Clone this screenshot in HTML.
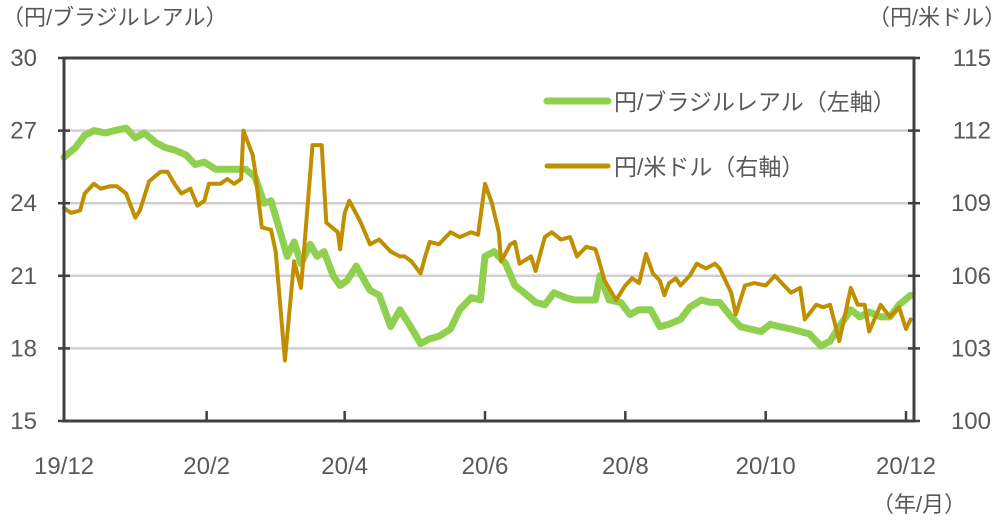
<!DOCTYPE html>
<html><head><meta charset="utf-8"><style>
body{margin:0;background:#fff;}
svg text{font-family:"Liberation Sans","Noto Sans CJK JP",sans-serif;fill:#595959;}
</style></head><body>
<svg width="1006" height="523" viewBox="0 0 1006 523" xmlns="http://www.w3.org/2000/svg">
<g id="grid"></g>
<g id="series"></g>
<g id="axes"></g>
<text x="2" y="25" font-size="22">（円/ブラジルレアル）</text>
<text x="868" y="25" font-size="22">（円/米ドル）</text>
<text x="872" y="512" font-size="22">（年/月）</text>
<g>
<line x1="547" y1="101" x2="608" y2="101" stroke="#8fd14f" stroke-width="7" stroke-linecap="round"/>
<text x="614" y="110" font-size="23">円/ブラジルレアル（左軸）</text>
<line x1="547" y1="166" x2="608" y2="166" stroke="#bf8f00" stroke-width="5" stroke-linecap="round"/>
<text x="614" y="175" font-size="23">円/米ドル（右軸）</text>
</g>
</svg>
<script>
const brlDays=[0,5,9,13,18,22,27,31,35,40,44,48,53,57,61,66,70,74,79,83,87,90,94,97,100,103,107,110,113,117,120,123,127,130,133,137,142,146,150,155,159,163,168,172,177,181,183,187,192,196,200,205,209,213,218,222,227,231,233,237,242,246,250,255,259,263,268,272,277,281,285,290,294,298,303,307,311,316,320,324,329,333,337,342,346,350,355,359,363,368];
const brlValues=[25.9,26.3,26.8,27.0,26.9,27.0,27.1,26.7,26.9,26.5,26.3,26.2,26.0,25.6,25.7,25.4,25.4,25.4,25.4,25.1,24.0,24.1,22.8,21.8,22.4,21.5,22.3,21.8,22.0,21.0,20.6,20.8,21.4,20.9,20.4,20.2,18.9,19.6,19.0,18.2,18.4,18.5,18.8,19.6,20.1,20.0,21.8,22.0,21.5,20.6,20.3,19.9,19.8,20.3,20.1,20.0,20.0,20.0,21.0,20.0,19.9,19.4,19.6,19.6,18.9,19.0,19.2,19.7,20.0,19.9,19.9,19.3,18.9,18.8,18.7,19.0,18.9,18.8,18.7,18.6,18.1,18.3,18.9,19.6,19.3,19.5,19.3,19.3,19.8,20.2];
const usdDays=[0,3,7,9,13,16,20,23,27,31,33,37,42,45,48,51,55,58,61,63,68,71,74,77,78,82,83,86,90,92,96,100,103,108,112,114,119,120,122,124,129,133,137,142,146,148,151,155,157,159,163,168,172,177,180,183,186,189,190,194,196,198,203,205,209,212,216,220,223,227,231,232,235,240,244,247,250,253,256,259,261,263,266,268,272,275,279,283,285,290,292,296,300,305,309,313,316,320,322,327,330,333,337,342,345,348,350,355,359,363,366,368];
const usdValues=[108.8,108.6,108.7,109.4,109.8,109.6,109.7,109.7,109.4,108.4,108.7,109.9,110.3,110.3,109.8,109.4,109.6,108.9,109.1,109.8,109.8,110.0,109.8,110.0,112.0,111.0,110.4,108.0,107.9,107.0,102.5,106.6,105.5,111.4,111.4,108.2,107.8,107.1,108.6,109.1,108.2,107.3,107.5,107.0,106.8,106.8,106.6,106.1,106.8,107.4,107.3,107.8,107.6,107.8,107.7,109.8,109.0,107.8,106.6,107.3,107.4,106.5,106.8,106.2,107.6,107.8,107.5,107.6,106.8,107.2,107.1,106.8,105.8,105.0,105.6,105.9,105.7,106.9,106.1,105.8,105.2,105.7,105.9,105.6,106.0,106.5,106.3,106.5,106.3,105.3,104.4,105.6,105.7,105.6,106.0,105.6,105.3,105.5,104.2,104.8,104.7,104.8,103.3,105.5,104.8,104.8,103.7,104.8,104.3,104.7,103.8,104.2];
const leftTicks=[15,18,21,24,27,30];
const rightTicks=[100,103,106,109,112,115];
const xTickDays=[0,62,122,183,244,305,366];
const xTickLabels=["19/12","20/2","20/4","20/6","20/8","20/10","20/12"];

const NS="http://www.w3.org/2000/svg";
const L=64,R=914,T=58,B=421;
const xs=d=>L+d*(906-L)/366;
const yl=v=>B-(v-15)*(B-T)/15;
const yr=v=>B-(v-100)*(B-T)/15;
function mk(tag,attrs,parent){const e=document.createElementNS(NS,tag);for(const k in attrs)e.setAttribute(k,attrs[k]);parent.appendChild(e);return e;}
const grid=document.getElementById('grid'),series=document.getElementById('series'),axes=document.getElementById('axes');
leftTicks.forEach((v,i)=>{
  const y=yl(v);
  if(v>15&&v<30){const g=mk('line',{x1:L,x2:R,y1:y,y2:y,stroke:'#d0d0d0','stroke-width':2.5},grid);
  
  }
  const tk=mk('line',{x1:L-6,x2:L+6,y1:y,y2:y,stroke:'#404040','stroke-width':2.5},axes);
  
  
  const tr=mk('line',{x1:R-6,x2:R+6,y1:y,y2:y,stroke:'#404040','stroke-width':2.5},axes);
  
  
  const t=mk('text',{x:37,y:y+8,'font-size':24,'text-anchor':'end'},axes);t.textContent=v;
  
  
  const t2=mk('text',{x:991,y:yr(rightTicks[i])+8,'font-size':24,'text-anchor':'end'},axes);t2.textContent=rightTicks[i];
  
  
});
xTickDays.forEach((d,i)=>{
  const x=xs(d);
  const tk=mk('line',{x1:x,x2:x,y1:B-10,y2:B,stroke:'#404040','stroke-width':2.5},axes);
  
  
  const t=mk('text',{x:x,y:474,'font-size':24,'text-anchor':'middle'},axes);t.textContent=xTickLabels[i];
  
  
});
const frame=mk('rect',{x:L,y:T,width:R-L,height:B-T,fill:'none',stroke:'#404040','stroke-width':3},axes);


const gp=brlDays.map((d,i)=>xs(d).toFixed(1)+','+yl(brlValues[i]).toFixed(1)).join(' ');
const g1=mk('polyline',{points:gp,fill:'none',stroke:'#8fd14f','stroke-width':7,'stroke-linejoin':'round','stroke-linecap':'round'},series);


const up=usdDays.map((d,i)=>xs(d).toFixed(1)+','+yr(usdValues[i]).toFixed(1)).join(' ');
const g2=mk('polyline',{points:up,fill:'none',stroke:'#bf8f00','stroke-width':4,'stroke-linejoin':'round','stroke-linecap':'round'},series);


</script>
</body></html>
